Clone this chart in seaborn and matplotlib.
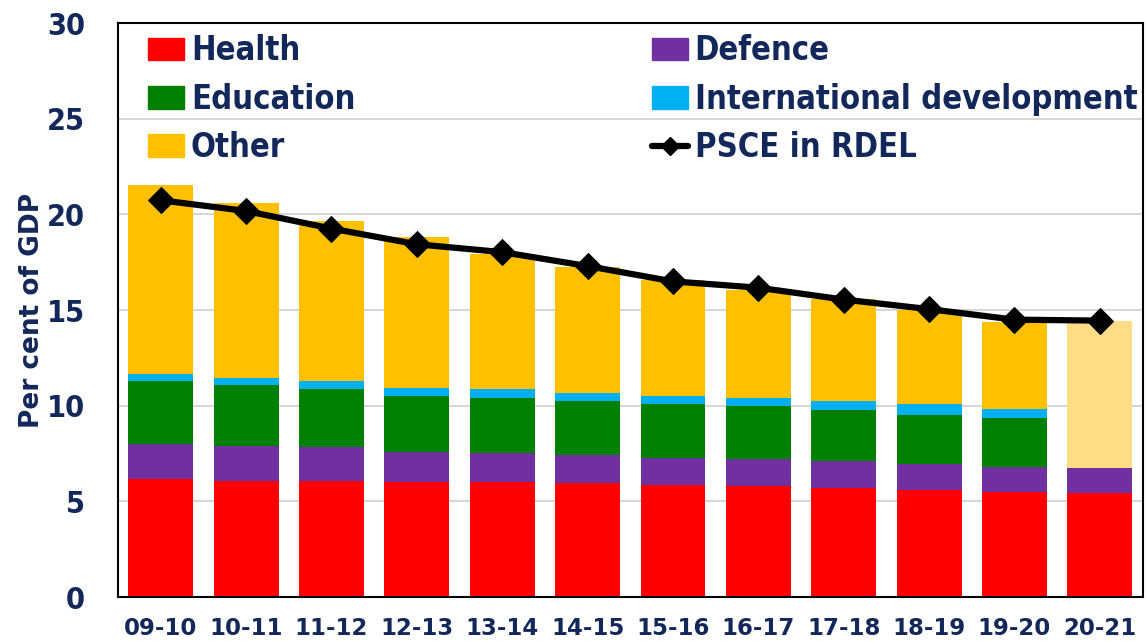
import numpy as np
import matplotlib
matplotlib.use("Agg")
import matplotlib.pyplot as plt
from matplotlib.patches import Patch
from matplotlib.lines import Line2D
from matplotlib.font_manager import FontProperties
import seaborn as sns

years = ["09-10", "10-11", "11-12", "12-13", "13-14", "14-15",
         "15-16", "16-17", "17-18", "18-19", "19-20", "20-21"]
health = [6.19, 6.06, 6.05, 6.01, 5.99, 5.96, 5.84, 5.80, 5.72, 5.61, 5.49, 5.44]
defence = [1.83, 1.83, 1.78, 1.57, 1.52, 1.45, 1.43, 1.41, 1.39, 1.33, 1.31, 1.30]
education = [3.27, 3.19, 3.03, 2.95, 2.90, 2.84, 2.80, 2.76, 2.69, 2.59, 2.56, 0.0]
intl_dev = [0.35, 0.35, 0.41, 0.38, 0.47, 0.43, 0.46, 0.45, 0.45, 0.54, 0.49, 0.0]
other = [9.88, 9.19, 8.40, 7.91, 7.07, 6.57, 6.03, 5.65, 5.31, 4.93, 4.53, 7.69]
psce = [20.74, 20.18, 19.26, 18.44, 18.03, 17.30, 16.50, 16.17, 15.55, 15.05, 14.50, 14.45]

NAVY = "#13285A"
c_health = "#FF0000"
c_def = "#7030A0"
c_edu = "#008000"
c_intl = "#00B0F0"
c_other = "#FFC000"
c_other_light = "#FFDC85"

sns.set_theme(style="white")
plt.rcParams["font.family"] = ["DejaVu Sans"]

cond_tick = FontProperties(family="DejaVu Sans", stretch="condensed", weight="bold", size=22)
cond_leg = FontProperties(family="DejaVu Sans", stretch="condensed", weight="bold", size=23.5)

fig = plt.figure(figsize=(11.46, 6.42), dpi=100)
ax = fig.add_axes([0.103, 0.070, 0.894, 0.894])

h = np.array(health)
d = np.array(defence)
e = np.array(education)
i_ = np.array(intl_dev)
o = np.array(other)
lay1 = h
lay2 = lay1 + d
lay3 = lay2 + e
lay4 = lay3 + i_
lay5 = lay4 + o

W = 0.76
other_pal = [c_other] * (len(years) - 1) + [c_other_light]
sns.barplot(x=years, y=lay5, hue=years, palette=other_pal, legend=False,
            width=W, ax=ax, saturation=1, linewidth=0, zorder=2)
for vals, col in [(lay4, c_intl), (lay3, c_edu), (lay2, c_def), (lay1, c_health)]:
    sns.barplot(x=years, y=vals, color=col, width=W, ax=ax, saturation=1,
                linewidth=0, zorder=2)

sns.lineplot(x=np.arange(len(years)), y=psce, ax=ax, color="black", lw=4.5,
             marker="D", markersize=13, markeredgecolor="black", zorder=4)

ax.set_xlim(-0.5, len(years) - 0.5)
ax.set_ylim(0, 30)
ax.set_yticks([0, 5, 10, 15, 20, 25, 30])
ax.yaxis.grid(True, color="#D0D0D0", lw=1.2, zorder=0)
ax.set_axisbelow(True)
for s in ax.spines.values():
    s.set_color("black")
    s.set_linewidth(1.5)

ax.set_xticks(np.arange(len(years)))
ax.set_xticklabels(years, fontsize=16.5, fontweight="bold", color=NAVY)
ax.set_xticks(np.arange(len(years) + 1) - 0.5, minor=True)
ax.tick_params(axis="x", which="major", length=0, pad=14)
ax.tick_params(axis="x", which="minor", length=7, width=1.5, color="black", direction="out")
ax.tick_params(axis="y", length=7, width=1.5, color="black", direction="out", pad=17)
for lab in ax.get_yticklabels():
    lab.set_fontproperties(cond_tick)
    lab.set_color(NAVY)
ax.set_xlabel("")
ax.set_ylabel("Per cent of GDP", fontsize=19, fontweight="bold", color=NAVY, labelpad=1)

handles = [Patch(color=c_health, label="Health"),
           Patch(color=c_edu, label="Education"),
           Patch(color=c_other, label="Other"),
           Patch(color=c_def, label="Defence"),
           Patch(color=c_intl, label="International development"),
           Line2D([0], [0], color="black", lw=4.5, marker="D", markersize=9,
                  label="PSCE in RDEL")]
leg = ax.legend(handles=handles, ncol=2, loc="upper left", bbox_to_anchor=(0.0074, 1.020),
                frameon=False, handlelength=1.08, handleheight=0.7, handletextpad=0.22,
                columnspacing=9.1, labelspacing=0.47, borderaxespad=0.3,
                prop=cond_leg)
for t in leg.get_texts():
    t.set_color(NAVY)

fig.savefig("out.png", dpi=100)
